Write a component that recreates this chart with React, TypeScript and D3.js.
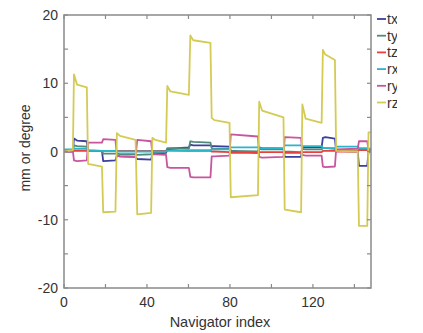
import React, { useEffect, useRef } from "react";
import * as d3 from "d3";

// knot positions along the navigator index (segment starts/ends)
const knots = [
  0, 4.3,
  4.8, 6.3, 11.0,
  11.6, 18.3,
  18.9, 24.8,
  25.5, 27, 34.5,
  35.3, 42.0,
  42.6, 44, 49.2,
  49.8, 51.3, 60.2,
  60.9, 62.3, 70.6,
  71.2, 72.5, 79.8,
  80.4, 93.5,
  94.1, 95.5, 105.8,
  106.4, 114.3,
  114.9, 116.5, 124.2,
  124.8, 126, 130.6,
  131.2, 141.6,
  142.2, 146.2,
  146.8, 148,
];

const tx = [
  0, 0,
  1.9, 1.6, 1.5,
  0.1, 0.1,
  -1.4, -1.3,
  -0.6, -0.7, -0.8,
  -1.1, -1.2,
  -0.4, -0.3, -0.2,
  0.3, 0.4, 0.6,
  1.0, 0.9, 0.9,
  0.8, 0.8, 0.7,
  0.1, -0.2,
  0.6, 0.5, 0.4,
  -0.8, -0.8,
  0.7, 0.6, 0.6,
  2.0, 2.1, 1.9,
  0.1, 0.0,
  -2.1, -2.1,
  0, 0,
];

const ty = [
  0, 0.1,
  0.9, 0.8, 0.7,
  0.2, 0.1,
  -0.3, -0.3,
  -0.3, -0.4, -0.4,
  -0.5, -0.4,
  -0.2, -0.1, 0,
  0.5, 0.5, 0.4,
  1.5, 1.4, 1.3,
  0.5, 0.4, 0.4,
  0.1, 0.0,
  0.4, 0.3, 0.3,
  0, -0.1,
  0.4, 0.3, 0.3,
  0.5, 0.5, 0.4,
  0.2, 0.1,
  0.2, 0.2,
  0.1, 0.1,
];

const tz = [
  0.2, 0.2,
  0.1, 0.1, 0.1,
  0.1, 0.1,
  0.1, 0.1,
  0.1, 0.1, 0.1,
  0.1, 0.1,
  0.1, 0.1, 0.1,
  0.2, 0.2, 0.1,
  0.1, 0.1, 0.1,
  0.0, 0.0, -0.1,
  -0.2, -0.2,
  -0.1, -0.1, -0.1,
  -0.2, -0.2,
  -0.1, -0.1, -0.1,
  0.1, 0.1, 0.1,
  0.0, 0.0,
  0.2, 0.2,
  0.1, 0.1,
];

const rx = [
  0.3, 0.3,
  0.4, 0.4, 0.4,
  0.1, 0.1,
  0.1, 0.1,
  0.0, 0.0, 0.0,
  0.0, 0.0,
  0.0, 0.0, 0.0,
  0.1, 0.1, 0.1,
  0.2, 0.2, 0.2,
  0.3, 0.3, 0.3,
  0.6, 0.6,
  0.5, 0.5, 0.5,
  0.9, 0.9,
  0.8, 0.8, 0.8,
  0.5, 0.5, 0.5,
  0.7, 0.7,
  0.5, 0.5,
  0.4, 0.4,
];

const ry = [
  0, 0,
  -1.3, -1.4, -1.3,
  1.3, 1.3,
  1.8, 1.7,
  -0.6, -0.7, -0.8,
  1.7, 1.5,
  -0.4, -0.4, -0.5,
  -2.3, -2.4, -2.4,
  -3.7, -3.8, -3.8,
  -0.7, -0.7, -0.6,
  2.5, 2.2,
  -0.8, -0.9, -0.8,
  2.1, 2.0,
  -0.5, -0.6, -0.6,
  -2.2, -2.3, -2.2,
  0.3, 0.4,
  1.5, 1.5,
  0.2, 0.2,
];

const rz = [
  0, 0.2,
  11.3, 9.8, 9.4,
  -1.8, -2.2,
  -8.9, -8.8,
  2.7, 2.3, 1.7,
  -9.2, -9.0,
  2.0, 1.7, 1.3,
  9.6, 8.8, 8.3,
  17.0, 16.3, 15.9,
  4.9, 4.6, 4.2,
  -6.7, -6.4,
  7.3, 6.0, 5.0,
  -8.5, -8.9,
  6.9, 4.8, 4.2,
  14.9, 14.2, 13.4,
  0.1, 0.0,
  -10.9, -10.9,
  2.8, 2.8,
];

const seriesNames = ["tx", "ty", "tz", "rx", "ry", "rz"];
const seriesValues = [tx, ty, tz, rx, ry, rz];
const seriesColors = ["#3b3f9e", "#4f8a7a", "#e8403c", "#2bb5c9", "#c9559f", "#d4cb55"];

const xTicks = [0, 20, 40, 60, 80, 100, 120, 140];
const xLabels = [0, 40, 80, 120];
const yTicks = [-20, -15, -10, -5, 0, 5, 10, 15, 20];
const yLabels = [-20, -10, 0, 10, 20];

const App = () => {
  const svgRef = useRef<SVGSVGElement>(null);

  useEffect(() => {
    const svg = d3.select(svgRef.current);
    svg.selectAll("*").remove();

    const left = 64, right = 371, top = 15, bottom = 288;
    const x = d3.scaleLinear().domain([0, 148]).range([left, right]);
    const y = d3.scaleLinear().domain([-20, 20]).range([bottom, top]);
    const axisColor = "#8a8a8a";
    const font = "Liberation Sans, Arial, sans-serif";

    // lines
    const line = d3.line<number>().x((d, i) => x(knots[i])).y((d) => y(d));
    seriesValues.forEach((vals, k) => {
      svg.append("path")
        .datum(vals)
        .attr("d", line)
        .attr("fill", "none")
        .attr("stroke", seriesColors[k])
        .attr("stroke-width", 1.8)
        .attr("stroke-linejoin", "round");
    });

    // box
    svg.append("rect")
      .attr("x", left).attr("y", top)
      .attr("width", right - left).attr("height", bottom - top)
      .attr("fill", "none").attr("stroke", axisColor).attr("stroke-width", 1.5);

    // ticks (inward on all sides)
    const tl = 4;
    xTicks.forEach((t) => {
      svg.append("line").attr("x1", x(t)).attr("x2", x(t)).attr("y1", bottom).attr("y2", bottom - tl)
        .attr("stroke", axisColor).attr("stroke-width", 1.2);
      svg.append("line").attr("x1", x(t)).attr("x2", x(t)).attr("y1", top).attr("y2", top + tl)
        .attr("stroke", axisColor).attr("stroke-width", 1.2);
    });
    yTicks.forEach((t) => {
      svg.append("line").attr("x1", left).attr("x2", left + tl).attr("y1", y(t)).attr("y2", y(t))
        .attr("stroke", axisColor).attr("stroke-width", 1.2);
      svg.append("line").attr("x1", right).attr("x2", right - tl).attr("y1", y(t)).attr("y2", y(t))
        .attr("stroke", axisColor).attr("stroke-width", 1.2);
    });

    // tick labels
    svg.selectAll(".xl").data(xLabels).enter().append("text")
      .attr("x", (d) => x(d)).attr("y", bottom + 19)
      .attr("text-anchor", "middle")
      .attr("font-family", font).attr("font-size", 14).attr("fill", "#333")
      .text((d) => d);
    svg.selectAll(".yl").data(yLabels).enter().append("text")
      .attr("x", left - 6).attr("y", (d) => y(d) + 5)
      .attr("text-anchor", "end")
      .attr("font-family", font).attr("font-size", 14).attr("fill", "#333")
      .text((d) => d);

    // axis titles
    svg.append("text")
      .attr("x", 220).attr("y", 327)
      .attr("text-anchor", "middle")
      .attr("font-family", font).attr("font-size", 14.5).attr("fill", "#333")
      .text("Navigator index");
    svg.append("text")
      .attr("transform", `translate(30,148) rotate(-90)`)
      .attr("text-anchor", "middle")
      .attr("font-family", font).attr("font-size", 14).attr("fill", "#333")
      .text("mm or degree");

    // legend (clipped on the right like the source image)
    svg.append("clipPath").attr("id", "legclip")
      .append("rect").attr("x", 370).attr("y", 0).attr("width", 27).attr("height", 120);
    const leg = svg.append("g").attr("clip-path", "url(#legclip)");
    seriesNames.forEach((name, k) => {
      const yy = 19 + k * 16.7;
      leg.append("line").attr("x1", 377).attr("x2", 386).attr("y1", yy).attr("y2", yy)
        .attr("stroke", seriesColors[k]).attr("stroke-width", 1.8);
      leg.append("text").attr("x", 387).attr("y", yy + 5)
        .attr("font-family", font).attr("font-size", 14).attr("fill", "#333")
        .text(name);
    });
  }, []);

  return (
    <svg ref={svgRef} width={423} height={333}
      style={{ position: "absolute", left: 0, top: 0, background: "#fff" }} />
  );
};

export default App;
